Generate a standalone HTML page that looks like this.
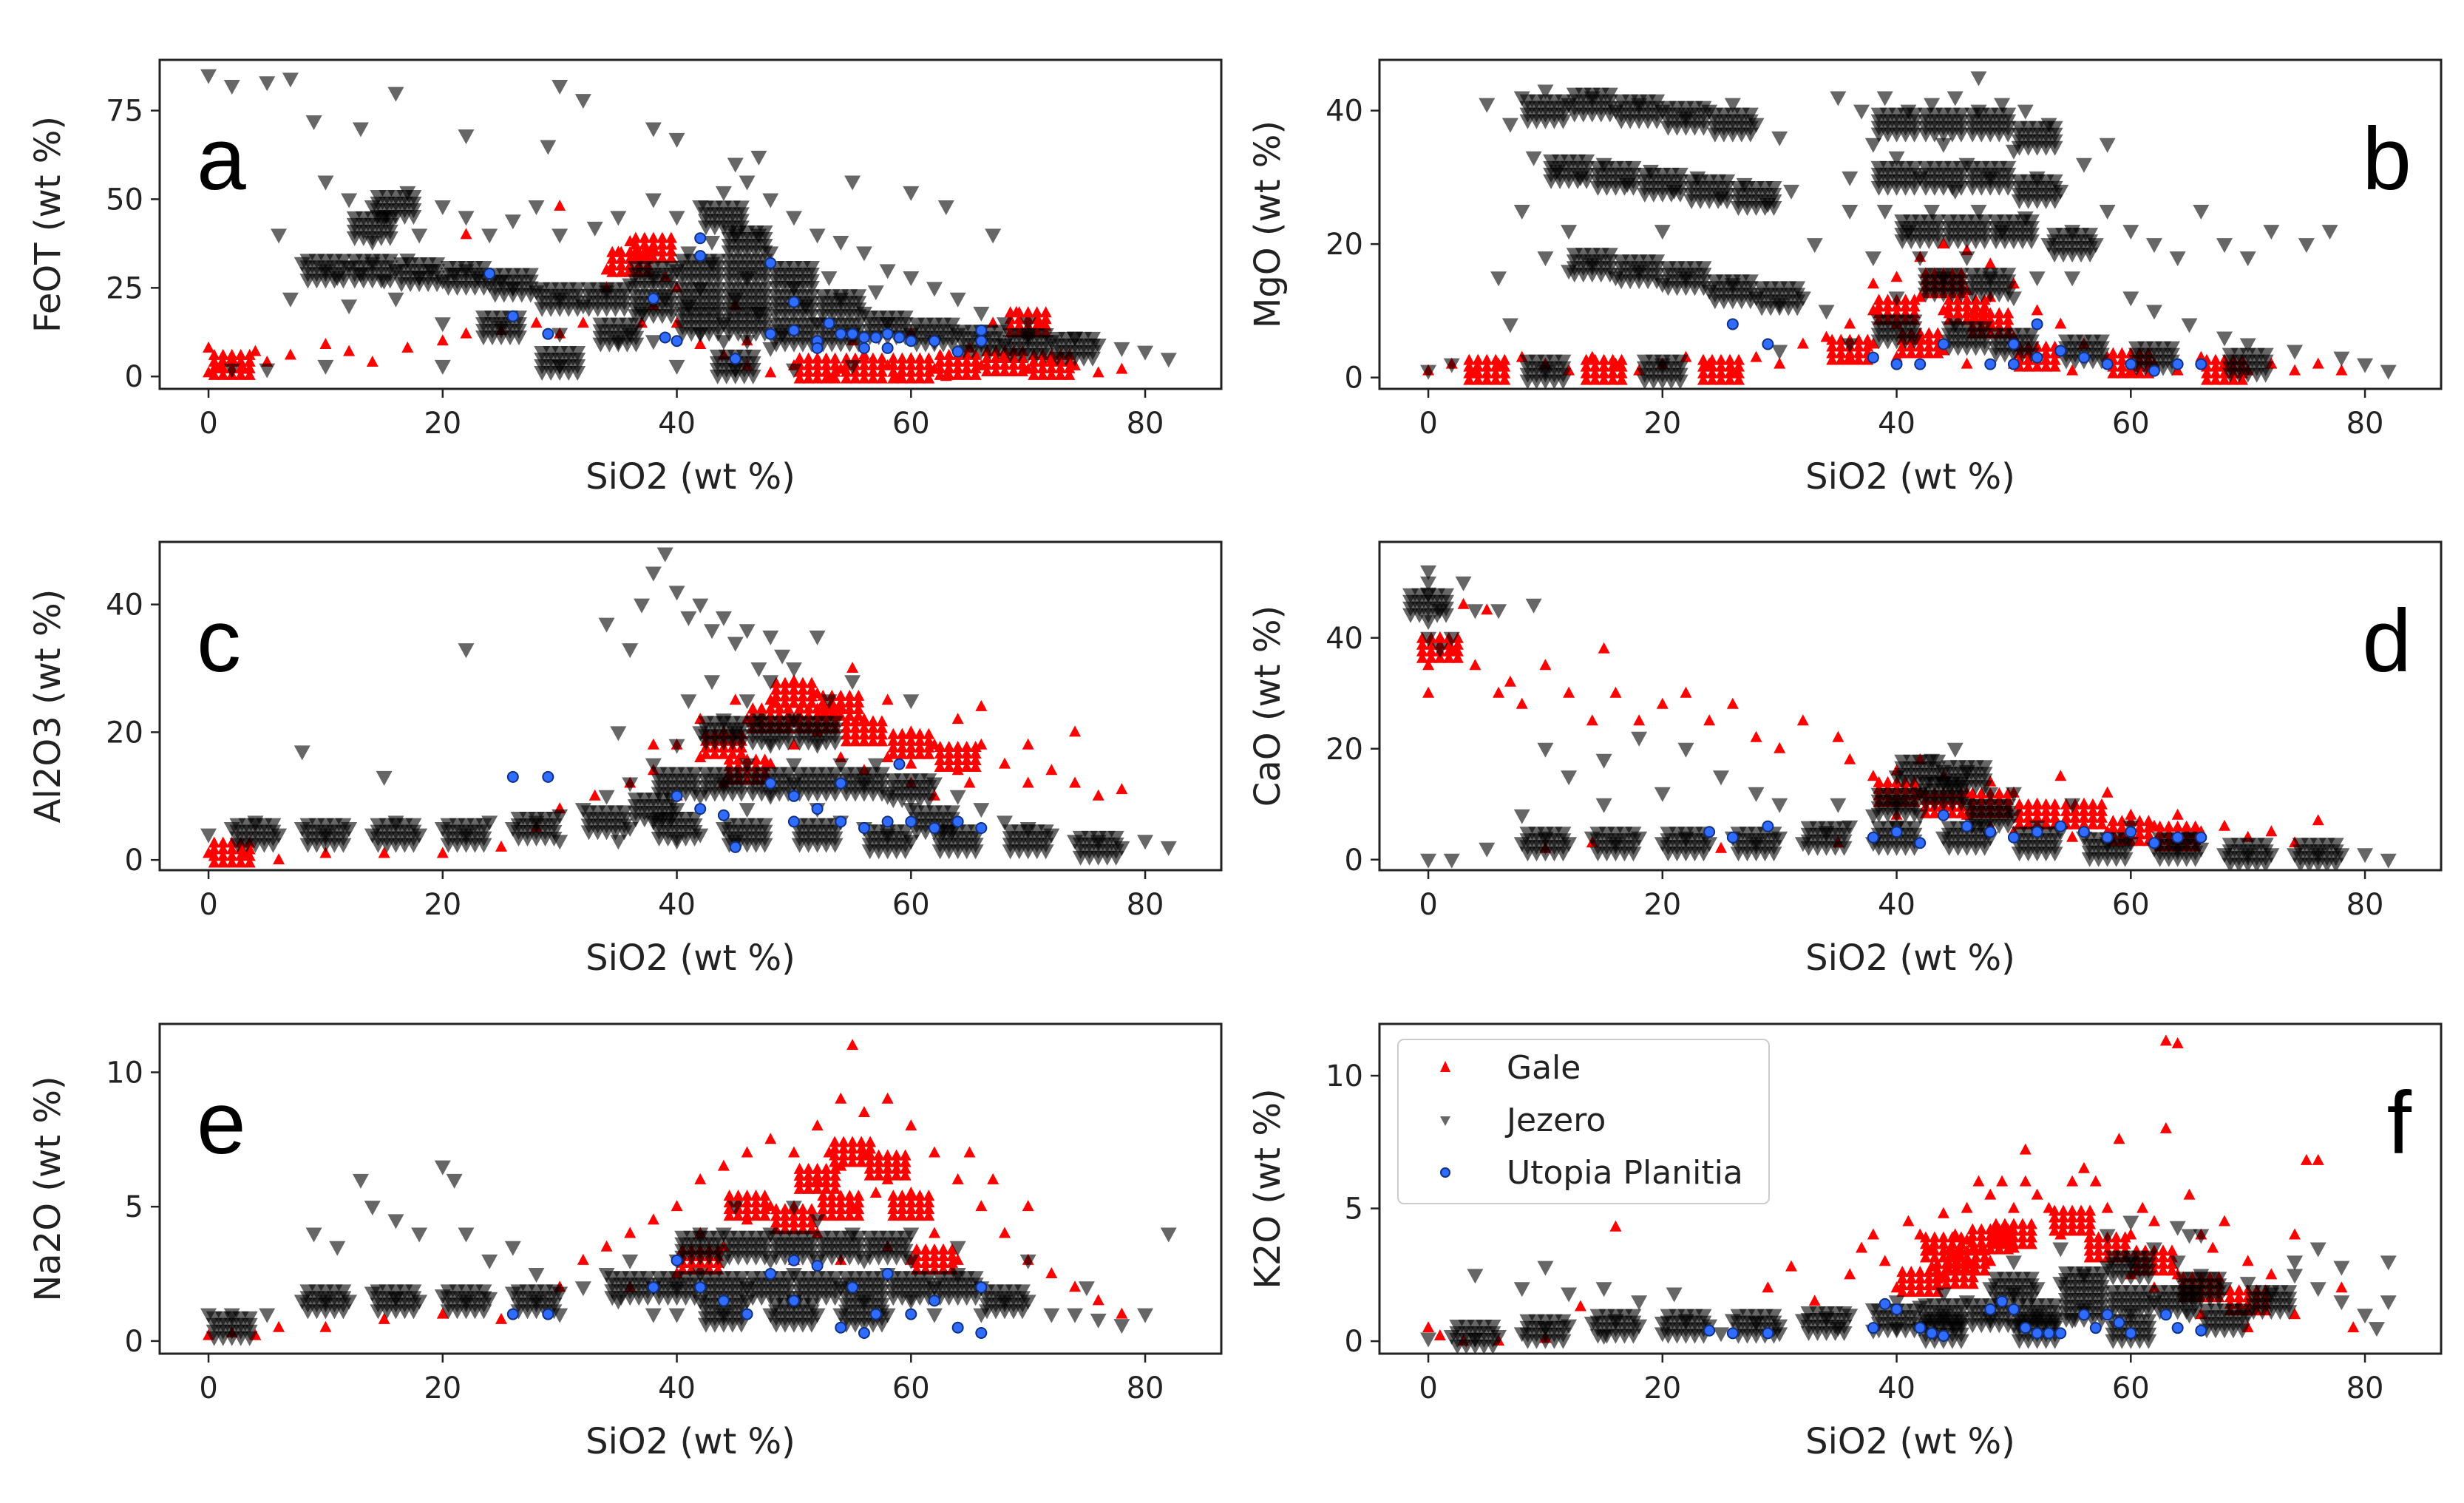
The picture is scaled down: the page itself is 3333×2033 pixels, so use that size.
<!DOCTYPE html>
<html><head><meta charset="utf-8"><style>
html,body{margin:0;padding:0;background:#fff}
svg{display:block;font-family:"DejaVu Sans","Liberation Sans",sans-serif}
</style></head><body>
<svg id="fig" width="3333" height="2033" viewBox="0 0 3333 2033"></svg>
<script>
const xTicks=[0,20,40,60,80];
const xRange=[-4.17,86.5];
const panelLetters=["a","b","c","d","e","f"];
const yLabels=["FeOT (wt %)","MgO (wt %)","Al2O3 (wt %)","CaO (wt %)","Na2O (wt %)","K2O (wt %)"];
const yTicks=[[0,25,50,75],[0,20,40],[0,20,40],[0,20,40],[0,5,10],[0,5,10]];
const yRanges=[[-3.5,89.3],[-1.7,47.6],[-1.6,49.8],[-1.9,57.3],[-0.47,11.8],[-0.47,11.95]];
const legendNames=["Gale","Jezero","Utopia Planitia"];

const galeA=[[0,1],[1,3],[2,5],[3,2],[4,7],[0,8],[5,4],[7,6],[10,9],[12,7],[14,4],[17,8],[20,10],[22,12],[25,13],[28,15],[30,12],[32,15],[34,30],[35,35],[36,38],[37,33],[38,36],[36,30],[34,25],[39,28],[40,25],[38,20],[37,15],[40,15],[50,3],[52,5],[54,2],[56,6],[58,3],[60,5],[62,2],[64,4],[66,3],[68,6],[70,2],[72,5],[74,3],[76,1],[78,2],[48,1],[46,3],[44,6],[42,9],[67,15],[69,18],[71,15],[70,12],[60,12],[55,10],[65,8],[30,48],[22,40],[45,20],[46,10],[59,0],[63,0],[53,0]];
const galeCoreA=[[36,32],[38,36],[56,2],[60,2],[64,3],[68,4],[72,3],[70,15],[52,2],[2,3]];
const jezA=[[0,85],[2,82],[5,83],[7,84],[16,80],[30,82],[32,78],[9,72],[13,70],[22,68],[29,65],[38,70],[40,67],[45,60],[47,62],[55,55],[60,52],[63,48],[67,40],[70,15],[10,55],[12,50],[14,48],[15,45],[17,52],[20,48],[22,45],[24,40],[26,44],[28,48],[30,40],[33,42],[35,45],[38,50],[40,45],[42,48],[44,52],[46,55],[48,50],[50,45],[52,40],[54,38],[56,35],[58,30],[60,28],[62,25],[64,22],[66,18],[68,15],[70,12],[72,10],[74,11],[76,9],[78,8],[80,7],[82,5],[8,32],[10,30],[11,28],[12,31],[13,29],[14,32],[15,27],[16,30],[17,33],[18,28],[19,30],[20,27],[21,29],[22,30],[23,28],[24,26],[25,27],[26,25],[28,24],[30,22],[32,20],[34,24],[36,26],[38,28],[40,30],[41,20],[42,25],[43,32],[44,15],[45,22],[46,28],[47,18],[48,35],[49,12],[50,25],[51,20],[52,15],[53,28],[54,22],[55,12],[56,18],[57,24],[58,15],[60,12],[62,10],[64,12],[66,10],[68,9],[70,11],[45,40],[43,38],[47,40],[41,35],[39,22],[37,18],[36,12],[38,10],[42,12],[44,10],[46,10],[48,8],[20,15],[25,14],[30,12],[35,10],[2,2],[5,2],[10,3],[20,3],[30,3],[40,3],[45,2],[50,2],[55,3],[14,38],[18,40],[16,22],[12,20],[6,40],[7,22]];
const jezCoreA=[[10,30],[14,30],[18,29],[22,28],[26,26],[30,22],[34,22],[38,20],[38,28],[42,15],[42,22],[42,30],[46,15],[46,22],[46,30],[46,38],[50,12],[50,20],[50,28],[54,12],[54,20],[58,14],[62,12],[66,10],[70,9],[74,8],[14,42],[16,48],[44,45],[30,4],[45,3],[25,14],[35,12]];
const utoA=[[24,29],[26,17],[29,12],[38,22],[39,11],[40,10],[42,39],[42,34],[45,5],[48,32],[50,21],[48,12],[50,13],[52,10],[53,15],[54,12],[55,12],[56,11],[57,11],[58,12],[59,11],[60,10],[62,10],[64,7],[66,13],[66,10],[52,8],[56,8],[58,8]];

const galeB=[[0,1],[2,2],[4,1],[6,2],[8,3],[10,2],[12,1],[14,3],[16,2],[18,1],[20,2],[22,3],[24,2],[26,1],[28,3],[30,2],[32,5],[34,6],[36,8],[38,10],[38,14],[40,15],[42,18],[44,20],[46,19],[48,17],[50,14],[52,10],[54,8],[56,5],[40,8],[42,12],[44,10],[46,13],[48,8],[50,6],[44,4],[40,3],[46,2],[50,2],[55,1],[58,3],[60,1],[62,2],[64,1],[66,3],[68,2],[70,1],[72,2],[74,1],[76,2],[78,1],[42,6],[38,5],[36,3],[48,12]];
const galeCoreB=[[40,10],[44,14],[46,10],[48,8],[42,5],[36,4],[52,3],[60,2],[68,1],[5,1],[15,1],[25,1]];
const jezB=[[5,41],[7,38],[8,42],[10,43],[12,41],[14,42],[16,40],[18,41],[20,40],[22,39],[24,40],[26,41],[28,38],[30,36],[9,33],[11,31],[13,30],[15,32],[17,29],[19,31],[21,28],[23,30],[25,27],[27,29],[29,26],[31,28],[10,18],[12,16],[14,17],[16,15],[18,16],[20,14],[22,15],[24,13],[26,14],[28,12],[30,11],[32,12],[34,10],[8,25],[6,15],[7,8],[12,22],[20,22],[35,42],[37,40],[39,42],[41,40],[43,41],[45,42],[47,40],[49,41],[51,40],[53,38],[38,35],[40,33],[42,30],[44,35],[46,32],[48,30],[50,34],[52,30],[54,28],[39,25],[41,22],[43,25],[45,28],[47,25],[49,22],[51,24],[53,20],[55,22],[42,18],[44,15],[46,18],[48,15],[50,12],[52,15],[40,12],[45,8],[55,15],[57,20],[58,25],[60,22],[62,20],[64,18],[66,25],[68,20],[70,18],[72,22],[75,20],[77,22],[56,32],[58,35],[47,45],[60,12],[62,10],[65,8],[68,6],[70,5],[74,4],[78,3],[80,2],[82,1],[36,5],[30,4],[20,2],[10,1],[0,1],[2,2],[33,20],[36,25],[36,30],[38,18]];
const jezCoreB=[[10,40],[14,41],[18,40],[22,39],[26,38],[12,31],[16,30],[20,29],[24,28],[28,27],[14,17],[18,16],[22,15],[26,13],[30,12],[40,38],[44,38],[48,38],[52,36],[40,30],[44,30],[48,30],[52,28],[42,22],[46,22],[50,22],[44,14],[48,14],[40,7],[46,6],[50,5],[56,4],[62,3],[70,2],[20,1],[10,1],[55,20]];
const utoB=[[26,8],[29,5],[38,3],[40,2],[42,2],[44,5],[48,2],[50,2],[52,3],[54,4],[56,3],[58,2],[60,2],[62,1],[64,2],[66,2],[52,8],[50,5]];

const galeC=[[0,1],[3,1],[6,0],[10,1],[15,1],[20,1],[25,2],[28,5],[30,8],[33,10],[36,12],[38,14],[40,18],[42,16],[44,20],[46,22],[48,25],[50,28],[52,26],[54,24],[56,22],[58,25],[60,20],[62,18],[64,22],[66,18],[68,15],[70,12],[72,14],[74,12],[76,10],[78,11],[74,20],[70,18],[66,24],[42,22],[44,12],[48,15],[50,18],[52,20],[54,16],[56,14],[58,16],[60,12],[62,10],[64,14],[45,25],[55,30],[50,22],[40,10],[38,18],[60,15],[65,12]];
const galeCoreC=[[44,18],[48,22],[52,22],[56,20],[60,18],[64,16],[50,26],[54,24],[46,14],[2,1]];
const jezC=[[0,4],[2,5],[4,6],[6,4],[8,5],[10,4],[12,5],[14,4],[16,6],[18,4],[20,5],[22,4],[24,6],[26,5],[28,6],[30,7],[32,8],[8,17],[15,13],[22,33],[34,10],[36,12],[38,15],[40,18],[42,20],[44,22],[46,25],[48,28],[50,22],[52,18],[54,15],[56,12],[58,10],[60,8],[62,12],[64,10],[66,8],[68,6],[70,5],[72,4],[74,3],[76,3],[78,2],[80,3],[82,2],[37,40],[38,45],[39,48],[40,42],[41,38],[42,40],[43,36],[44,38],[45,34],[46,36],[47,30],[48,35],[49,32],[50,30],[52,35],[55,28],[60,25],[40,8],[42,10],[44,12],[46,8],[48,10],[50,12],[52,8],[54,6],[56,5],[58,4],[60,3],[45,3],[40,3],[35,3],[30,3],[50,15],[48,18],[46,15],[44,5],[42,4],[38,6],[36,5],[41,25],[43,28],[45,20],[47,22],[53,25],[57,15],[35,20],[34,37],[36,33]];
const jezCoreC=[[4,4],[10,4],[16,4],[22,4],[28,5],[34,6],[40,5],[46,4],[52,4],[58,3],[64,3],[70,3],[76,2],[40,12],[44,12],[48,12],[52,12],[56,12],[60,11],[44,20],[48,20],[52,20],[38,8],[62,6]];
const utoC=[[26,13],[29,13],[40,10],[42,8],[44,7],[45,2],[48,12],[50,10],[50,6],[52,8],[54,6],[54,12],[56,5],[58,6],[60,6],[62,5],[64,6],[66,5],[59,15]];

const galeD=[[0,35],[1,40],[2,38],[0,30],[3,46],[5,45],[4,35],[6,30],[7,32],[8,28],[10,35],[12,30],[14,25],[15,38],[16,30],[18,25],[20,28],[22,30],[24,25],[26,28],[28,22],[30,20],[32,25],[35,22],[36,18],[38,15],[40,16],[42,18],[44,15],[46,12],[48,14],[50,12],[52,10],[54,15],[56,10],[58,12],[60,8],[62,6],[64,8],[66,5],[68,6],[70,4],[72,5],[74,3],[76,7],[42,12],[44,10],[46,8],[48,6],[50,5],[40,8],[14,3],[10,2],[25,2],[35,3],[55,4],[58,5],[52,6]];
const galeCoreD=[[40,12],[44,10],[48,10],[52,8],[56,8],[60,5],[64,4],[1,38]];
const jezD=[[0,52],[0,50],[0,48],[1,45],[0,43],[2,40],[1,38],[0,40],[3,50],[4,45],[6,45],[9,46],[0,0],[2,0],[5,2],[8,3],[10,4],[12,3],[14,4],[16,3],[18,4],[20,3],[22,4],[24,3],[26,4],[28,3],[30,4],[32,3],[34,5],[36,6],[38,8],[40,10],[42,12],[44,14],[46,16],[48,12],[50,8],[52,6],[54,5],[56,4],[58,3],[60,3],[62,2],[64,2],[66,2],[68,1],[70,1],[72,1],[74,1],[76,1],[78,1],[80,1],[82,0],[10,20],[12,15],[15,18],[18,22],[22,20],[25,15],[28,12],[30,10],[20,12],[40,6],[42,8],[44,4],[46,10],[48,4],[38,3],[43,18],[45,20],[40,15],[50,12],[55,10],[60,6],[65,4],[35,10],[15,10],[8,8],[44,16]];
const jezCoreD=[[10,3],[16,3],[22,3],[28,3],[34,4],[40,4],[46,4],[52,3],[58,2],[64,2],[70,1],[76,1],[40,10],[44,12],[46,15],[42,16],[48,8],[0,46]];
const utoD=[[24,5],[29,6],[38,4],[40,5],[42,3],[44,8],[46,6],[48,5],[50,4],[52,5],[54,6],[56,5],[58,4],[60,5],[62,3],[64,4],[66,4],[26,4]];

const galeE=[[0,0.2],[2,0.3],[4,0.2],[6,0.5],[10,0.5],[15,0.8],[20,1],[25,0.8],[30,2],[32,3],[34,3.5],[36,4],[38,4.5],[40,5],[42,6],[44,6.5],[46,7],[48,7.5],[50,7],[52,8],[54,9],[55,11],[56,8.5],[58,9],[60,8],[62,7],[64,6],[66,5],[68,4],[70,3],[72,2.5],[74,2],[76,1.5],[78,1],[50,5],[52,6],[54,6.5],[56,7],[58,6],[60,5.5],[55,5],[53,7],[57,5.5],[46,4.5],[48,5],[44,3.5],[62,4],[64,3],[66,2],[40,2.5],[36,2],[58,3.5],[42,4],[60,3],[52,4],[50,3],[54,3],[65,7],[67,6],[70,5]];
const galeCoreE=[[52,6],[55,7],[58,6.5],[50,4.5],[54,5],[46,5],[60,5],[42,3],[62,3]];
const jezE=[[0,1],[2,1],[5,1],[8,1.5],[10,1.5],[12,1.5],[14,1.8],[16,1.6],[18,1.5],[20,1.7],[22,1.5],[24,1.6],[26,1.8],[28,1.5],[30,1.8],[9,4],[11,3.5],[13,6],[14,5],[16,4.5],[18,4],[20,6.5],[21,6],[22,4],[24,3],[26,3.5],[28,2.5],[32,2],[34,2.5],[36,3],[38,2],[40,3],[42,2.5],[44,3],[46,2],[48,3],[50,2.5],[52,3],[54,2],[56,3],[58,2.5],[60,3],[62,2],[64,2.5],[66,2],[68,1.5],[70,1.5],[72,1],[74,1],[76,0.8],[78,0.6],[80,1],[82,4],[40,1],[42,1.5],[44,1],[46,1.5],[48,1],[50,1.5],[52,1],[54,1],[56,1.5],[58,1],[60,1.5],[62,1],[44,4],[48,4],[52,4.5],[55,4],[60,4],[64,3.5],[45,5],[50,5],[40,2],[35,1.5],[38,1],[42,4],[30,1],[66,1],[70,3],[75,2]];
const jezCoreE=[[10,1.5],[16,1.5],[22,1.5],[28,1.5],[36,2],[40,2],[44,2],[48,2],[52,2],[56,2],[60,2],[64,2],[42,3.5],[46,3.5],[50,3.5],[54,3.5],[58,3.5],[44,1],[50,1],[56,1],[68,1.5],[2,0.5]];
const utoE=[[26,1],[29,1],[38,2],[40,3],[42,2],[44,1.5],[46,1],[48,2.5],[50,3],[52,2.8],[54,0.5],[55,2],[56,0.3],[57,1],[58,2.5],[60,1],[62,1.5],[64,0.5],[66,2],[66,0.3],[50,1.5]];

const galeF=[[0,0.5],[1,0.2],[3,0],[6,0],[10,0.1],[13,1.3],[16,4.3],[29,2],[31,2.8],[33,1.5],[36,2.5],[37,3.5],[38,4],[39,3],[40,2],[41,4.5],[42,4],[43,3.5],[44,4.8],[45,4],[46,5],[46,3],[47,6],[48,5.5],[49,6],[50,5],[51,6],[51,7.2],[52,5.5],[53,5],[54,4],[55,6],[56,6.5],[57,6],[58,5],[59,7.6],[60,4],[61,5],[62,4.5],[63,8],[63,11.3],[64,11.2],[65,5.5],[66,4],[67,3.5],[68,4.5],[70,3],[72,2.5],[74,4],[75,6.8],[76,6.8],[78,2],[79,0.5],[44,2.5],[46,3.8],[48,3],[50,3.5],[45,3.2],[43,2.8],[66,1],[70,0.5],[74,1],[60,2.5],[62,2],[64,2.5]];
const galeCoreF=[[44,3.5],[46,3],[45,2.5],[48,3.8],[50,4],[55,4.5],[58,3.5],[62,3],[66,2],[70,1.5],[42,2.2]];
const jezF=[[0,0.1],[2,0.2],[4,0.1],[6,0.2],[8,0.3],[10,0.5],[12,0.6],[14,0.7],[16,0.8],[18,0.6],[20,0.7],[22,0.8],[24,0.6],[26,0.8],[28,0.7],[30,0.6],[32,0.8],[34,0.9],[36,1],[38,1.2],[40,1.5],[42,1.3],[44,1.8],[46,1.5],[48,2],[50,1.8],[52,2],[54,2.2],[56,2.5],[58,2.8],[60,3],[62,3.5],[64,3],[66,2.5],[68,2],[70,2.2],[72,1.8],[74,2.5],[76,2],[78,1.5],[80,1],[82,3],[82,1.5],[81,0.5],[4,2.5],[8,2],[10,2.8],[12,1.8],[15,2],[18,1.5],[21,1.8],[40,0.5],[45,0.5],[50,0.6],[55,0.8],[60,1],[62,1.5],[65,1],[70,1],[74,3],[76,3.5],[78,2.8],[50,3],[54,3.5],[58,4],[60,4.5],[65,4],[44,1],[48,0.8],[52,1],[56,1.2],[42,0.5],[38,0.4],[35,0.5],[30,0.3],[25,0.3],[20,0.3],[15,0.2],[64,4.3],[66,4]];
const jezCoreF=[[4,0.2],[10,0.4],[16,0.6],[22,0.6],[28,0.6],[34,0.7],[40,0.8],[44,1],[48,1],[52,1],[56,1.2],[60,1.5],[64,1.5],[50,2],[56,2.2],[60,2.8],[66,2],[72,1.5],[44,0.4],[52,0.4],[60,0.4],[68,0.8]];
const utoF=[[24,0.4],[26,0.3],[29,0.3],[38,0.5],[39,1.4],[40,1.2],[42,0.5],[43,0.3],[44,0.2],[48,1.2],[49,1.5],[50,1.2],[51,0.5],[52,0.3],[53,0.3],[54,0.3],[56,1],[57,0.5],[58,1],[59,0.7],[60,0.3],[63,1],[64,0.5],[66,0.4]];

const galeSeries=[galeA,galeB,galeC,galeD,galeE,galeF];
const galeCores=[galeCoreA,galeCoreB,galeCoreC,galeCoreD,galeCoreE,galeCoreF];
const jezSeries=[jezA,jezB,jezC,jezD,jezE,jezF];
const jezCores=[jezCoreA,jezCoreB,jezCoreC,jezCoreD,jezCoreE,jezCoreF];
const utoSeries=[utoA,utoB,utoC,utoD,utoE,utoF];

const NS="http://www.w3.org/2000/svg";
const svg=document.getElementById('fig');
function mk(tag,attrs,parent){const e=document.createElementNS(NS,tag);for(const k in attrs)e.setAttribute(k,attrs[k]);(parent||svg).appendChild(e);return e;}
const colX=[216,1866], rowY=[[81,526],[733,1177],[1385,1831]], W=1436;
const stencil=[];[-24,-12,0,12,24].forEach(dx=>[-14,-5,4,13].forEach(dy=>stencil.push([dx,dy])));
function galeMark(x,y,parent){return mk('polygon',{points:`${x},${y-9} ${x-8},${y+6} ${x+8},${y+6}`,fill:'#ff0000'},parent);}
function jezMark(x,y,parent,op){return mk('polygon',{points:`${x-11},${y-8} ${x+11},${y-8} ${x},${y+12}`,fill:'#000','fill-opacity':op},parent);}

for(let p=0;p<6;p++){
  const L=colX[p%2], T=rowY[Math.floor(p/2)][0], B=rowY[Math.floor(p/2)][1];
  const yr=yRanges[p];
  const sx=v=>L+(v-xRange[0])/(xRange[1]-xRange[0])*W;
  const sy=v=>B-(v-yr[0])/(yr[1]-yr[0])*(B-T);
  const g=mk('g',{});
  
  
  const clipId='clip'+p;
  const cp=mk('clipPath',{id:clipId},g); mk('rect',{x:L,y:T,width:W,height:B-T},cp);
  const pts=mk('g',{'clip-path':'url(#'+clipId+')'},g);
  galeSeries[p].forEach(d=>{
    const m=galeMark(sx(d[0]),sy(d[1]),pts);
    
    });
  galeCores[p].forEach(d=>{const cg=mk('g',{},pts);
    
    
    stencil.forEach(o=>galeMark(sx(d[0])+o[0],sy(d[1])+o[1],cg));});
  jezCores[p].forEach(d=>{const cg=mk('g',{},pts);
    
    
    stencil.forEach(o=>jezMark(sx(d[0])+o[0],sy(d[1])+o[1],cg,0.6));});
  jezSeries[p].forEach(d=>{
    const m=jezMark(sx(d[0]),sy(d[1]),pts,0.6);
    
    });
  utoSeries[p].forEach(d=>{const m=mk('circle',{cx:sx(d[0]),cy:sy(d[1]),r:7,fill:'#2f6cff',stroke:'#103080','stroke-width':2},pts);
    
    });
  const fr=mk('rect',{x:L,y:T,width:W,height:B-T,fill:'none',stroke:'#222','stroke-width':3},g);
  
  
  xTicks.forEach(t=>{const x=sx(t);mk('line',{x1:x,x2:x,y1:B,y2:B+12,stroke:'#222','stroke-width':2.5},g);
    const tx=mk('text',{x:x,y:B+60,'font-size':40,'text-anchor':'middle',fill:'#222'},g);tx.textContent=t;
    
    });
  yTicks[p].forEach(t=>{const y=sy(t);mk('line',{x1:L-12,x2:L,y1:y,y2:y,stroke:'#222','stroke-width':2.5},g);
    const tx=mk('text',{x:L-22,y:y+14,'font-size':40,'text-anchor':'end',fill:'#222'},g);tx.textContent=t;
    
    });
  const xl=mk('text',{x:L+W/2,y:B+135,'font-size':48,'text-anchor':'middle',fill:'#222'},g);xl.textContent='SiO2 (wt %)';
  
  
  const yc=(T+B)/2, yx=L-135;
  const yl=mk('text',{x:yx,y:yc,'font-size':48,'text-anchor':'middle',fill:'#222',transform:`rotate(-90 ${yx} ${yc})`},g);yl.textContent=yLabels[p];
  
  
  const lt=mk('text',{x:(p%2?L+W-40:L+50),y:T+175,'font-size':120,'text-anchor':(p%2?'end':'start'),fill:'#000','font-family':'Liberation Sans, sans-serif'},g);lt.textContent=panelLetters[p];
  
  
}
const lg=mk('g',{});


mk('rect',{x:1891,y:1406,width:502,height:222,rx:8,fill:'#fff','fill-opacity':0.9,stroke:'#ccc','stroke-width':2},lg);
legendNames.forEach((n,i)=>{
  const cy=1444+i*71, cx=1955;
  if(i===0)mk('polygon',{points:`${cx},${cy-9} ${cx-7},${cy+6} ${cx+7},${cy+6}`,fill:'#f00'},lg);
  else if(i===1)mk('polygon',{points:`${cx-7},${cy-5} ${cx+7},${cy-5} ${cx},${cy+8}`,fill:'#000','fill-opacity':0.6},lg);
  else mk('circle',{cx:cx,cy:cy,r:6,fill:'#2f6cff',stroke:'#103080','stroke-width':2},lg);
  const t=mk('text',{x:2038,y:cy+15,'font-size':44,fill:'#222'},lg);t.textContent=n;
  
  
});
</script>
</body></html>
